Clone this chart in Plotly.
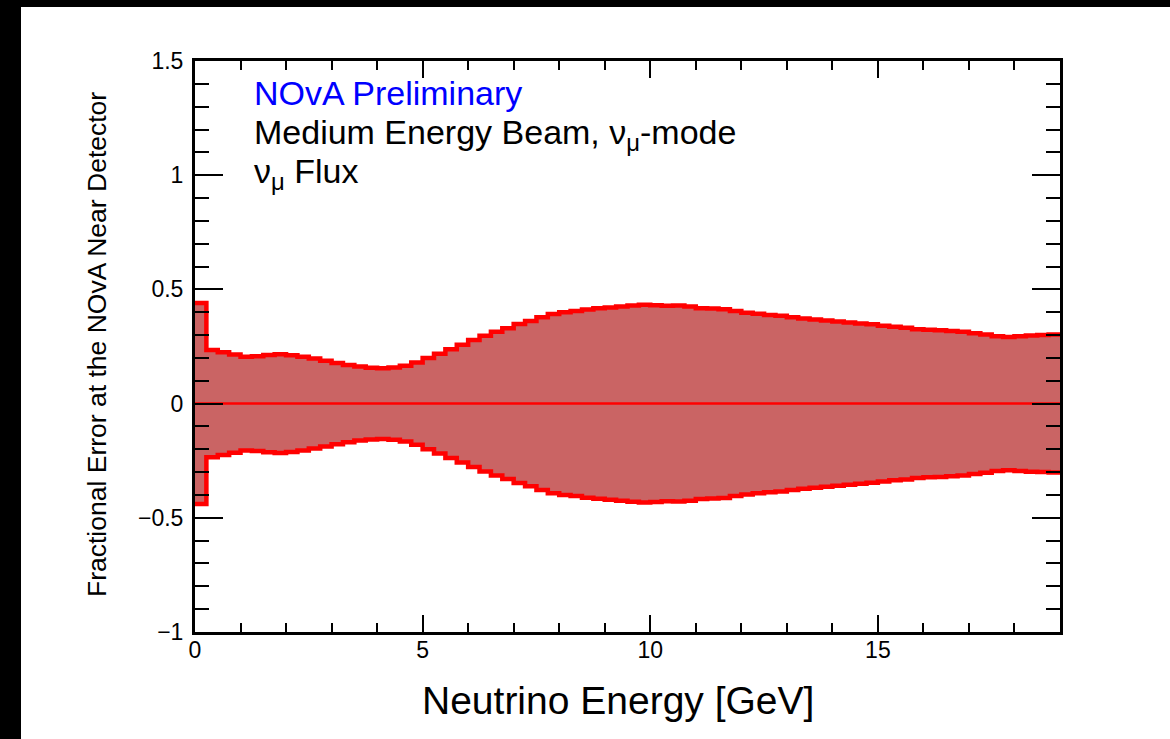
import numpy as np
import plotly.graph_objects as go

# ---------------- data ----------------
bin_width = 0.25  # GeV
err_upper = [0.440, 0.235, 0.225, 0.215, 0.205, 0.207, 0.213, 0.216, 0.212, 0.205,
             0.197, 0.188, 0.178, 0.169, 0.162, 0.157, 0.155, 0.158, 0.166, 0.180,
             0.200, 0.218, 0.238, 0.258, 0.278, 0.297, 0.315, 0.330, 0.348, 0.362,
             0.378, 0.392, 0.400, 0.405, 0.412, 0.417, 0.421, 0.425, 0.430, 0.433,
             0.431, 0.428, 0.429, 0.425, 0.418, 0.416, 0.413, 0.405, 0.398, 0.393,
             0.388, 0.385, 0.378, 0.373, 0.368, 0.364, 0.360, 0.355, 0.351, 0.347,
             0.341, 0.336, 0.332, 0.326, 0.323, 0.321, 0.318, 0.315, 0.308, 0.303,
             0.295, 0.292, 0.295, 0.298, 0.300, 0.302]
err_lower = [-0.440, -0.235, -0.225, -0.215, -0.205, -0.207, -0.213, -0.216, -0.212, -0.205,
             -0.197, -0.188, -0.178, -0.169, -0.162, -0.157, -0.155, -0.158, -0.166, -0.180,
             -0.200, -0.218, -0.238, -0.258, -0.278, -0.297, -0.315, -0.330, -0.348, -0.362,
             -0.378, -0.392, -0.400, -0.405, -0.412, -0.417, -0.421, -0.425, -0.430, -0.433,
             -0.431, -0.428, -0.429, -0.425, -0.418, -0.416, -0.413, -0.405, -0.398, -0.393,
             -0.388, -0.385, -0.378, -0.373, -0.368, -0.364, -0.360, -0.355, -0.351, -0.347,
             -0.341, -0.336, -0.332, -0.326, -0.323, -0.321, -0.318, -0.315, -0.308, -0.303,
             -0.295, -0.292, -0.295, -0.298, -0.300, -0.302]
central = [0.0] * len(err_upper)

y_tickvals = [-1, -0.5, 0, 0.5, 1, 1.5]
y_ticktext = ["\u22121", "\u22120.5", "0", "0.5", "1", "1.5"]
x_tickvals = [0, 5, 10, 15]
x_ticktext = ["0", "5", "10", "15"]

# ---------------- figure ----------------
W, H = 1170, 739
L, R, T, B = 195, 1060, 61, 632  # plot area in pixels

edges = np.arange(len(err_upper) + 1) * bin_width


def step(vals):
    return list(vals) + [vals[-1]]


FONT = "Liberation Sans, Arial, Helvetica, sans-serif"
fill_col = "#CA6464"
red = "#FF0000"

fig = go.Figure()
fig.add_trace(go.Scatter(x=edges, y=step(err_lower), mode="lines", line=dict(width=0, shape="hv"),
                         showlegend=False, hoverinfo="skip"))
fig.add_trace(go.Scatter(x=edges, y=step(err_upper), mode="lines", line=dict(width=0, shape="hv"),
                         fill="tonexty", fillcolor=fill_col, showlegend=False, hoverinfo="skip"))
fig.add_trace(go.Scatter(x=edges, y=step(err_upper), mode="lines",
                         line=dict(color=red, width=4.5, shape="hv"), showlegend=False))
fig.add_trace(go.Scatter(x=edges, y=step(err_lower), mode="lines",
                         line=dict(color=red, width=4.5, shape="hv"), showlegend=False))
fig.add_trace(go.Scatter(x=edges, y=step(central), mode="lines",
                         line=dict(color=red, width=2.5, shape="hv"), showlegend=False))


def px2paper(px, py):
    return (px - L) / (R - L), (B - py) / (B - T)


annotations = []
for text, py, col in [("NOvA Preliminary", 93, "#0000FF"),
                      ("Medium Energy Beam, \u03bd<sub>\u03bc</sub>-mode", 134, "black"),
                      ("\u03bd<sub>\u03bc</sub> Flux", 173, "black")]:
    ax_, ay_ = px2paper(252, py)
    annotations.append(dict(x=ax_, y=ay_, xref="paper", yref="paper", text=text, showarrow=False,
                            xanchor="left", yanchor="middle", font=dict(size=34, color=col, family=FONT)))

tx, ty = px2paper(618, 700)
annotations.append(dict(x=tx, y=ty, xref="paper", yref="paper", text="Neutrino Energy [GeV]",
                        showarrow=False, xanchor="center", yanchor="middle",
                        font=dict(size=39, color="black", family=FONT)))
yx, yy = px2paper(97, 345)
annotations.append(dict(x=yx, y=yy, xref="paper", yref="paper",
                        text="Fractional Error at the NOvA Near Detector", textangle=-90,
                        showarrow=False, xanchor="center", yanchor="middle",
                        font=dict(size=26.5, color="black", family=FONT)))

# black screen borders (left and top)
shapes = []
x0, _ = px2paper(0, 0)
x1, _ = px2paper(21, 0)
shapes.append(dict(type="rect", xref="paper", yref="paper", x0=x0 - 0.05, x1=x1,
                   y0=-0.5, y1=1.5, fillcolor="black", line=dict(width=0), layer="above"))
_, y0 = px2paper(0, 7)
_, y1 = px2paper(0, -20)
xa, _ = px2paper(-20, 0)
xb, _ = px2paper(W, 0)
shapes.append(dict(type="rect", xref="paper", yref="paper", x0=xa, x1=xb,
                   y0=y0, y1=y1, fillcolor="black", line=dict(width=0), layer="above"))

fig.update_layout(
    width=W, height=H,
    margin=dict(l=L, r=W - R, t=T, b=H - B, pad=0),
    paper_bgcolor="white", plot_bgcolor="white",
    font=dict(family=FONT, color="black"),
    annotations=annotations, shapes=shapes,
    xaxis=dict(range=[0, 19], tickvals=x_tickvals, ticktext=x_ticktext, ticks="inside",
               ticklen=17, tickwidth=2, tickcolor="black", showline=True, linewidth=3,
               linecolor="black", mirror="allticks", showgrid=False, zeroline=False,
               tickfont=dict(size=23, family=FONT, color="black"), ticklabelstandoff=-5,
               minor=dict(dtick=1, tick0=0, ticks="inside", ticklen=9, tickwidth=2,
                          tickcolor="black", showgrid=False)),
    yaxis=dict(range=[-1, 1.5], tickvals=y_tickvals, ticktext=y_ticktext, ticks="inside",
               ticklen=28, tickwidth=2, tickcolor="black", showline=True, linewidth=3,
               linecolor="black", mirror="allticks", showgrid=False, zeroline=False,
               tickfont=dict(size=23, family=FONT, color="black"), ticklabelstandoff=4,
               minor=dict(dtick=0.1, tick0=0, ticks="inside", ticklen=14, tickwidth=2,
                          tickcolor="black", showgrid=False)),
)

fig.write_html("out.html", config={"displayModeBar": False},
               post_script="document.body.style.margin='0';document.body.style.overflow='hidden';")
